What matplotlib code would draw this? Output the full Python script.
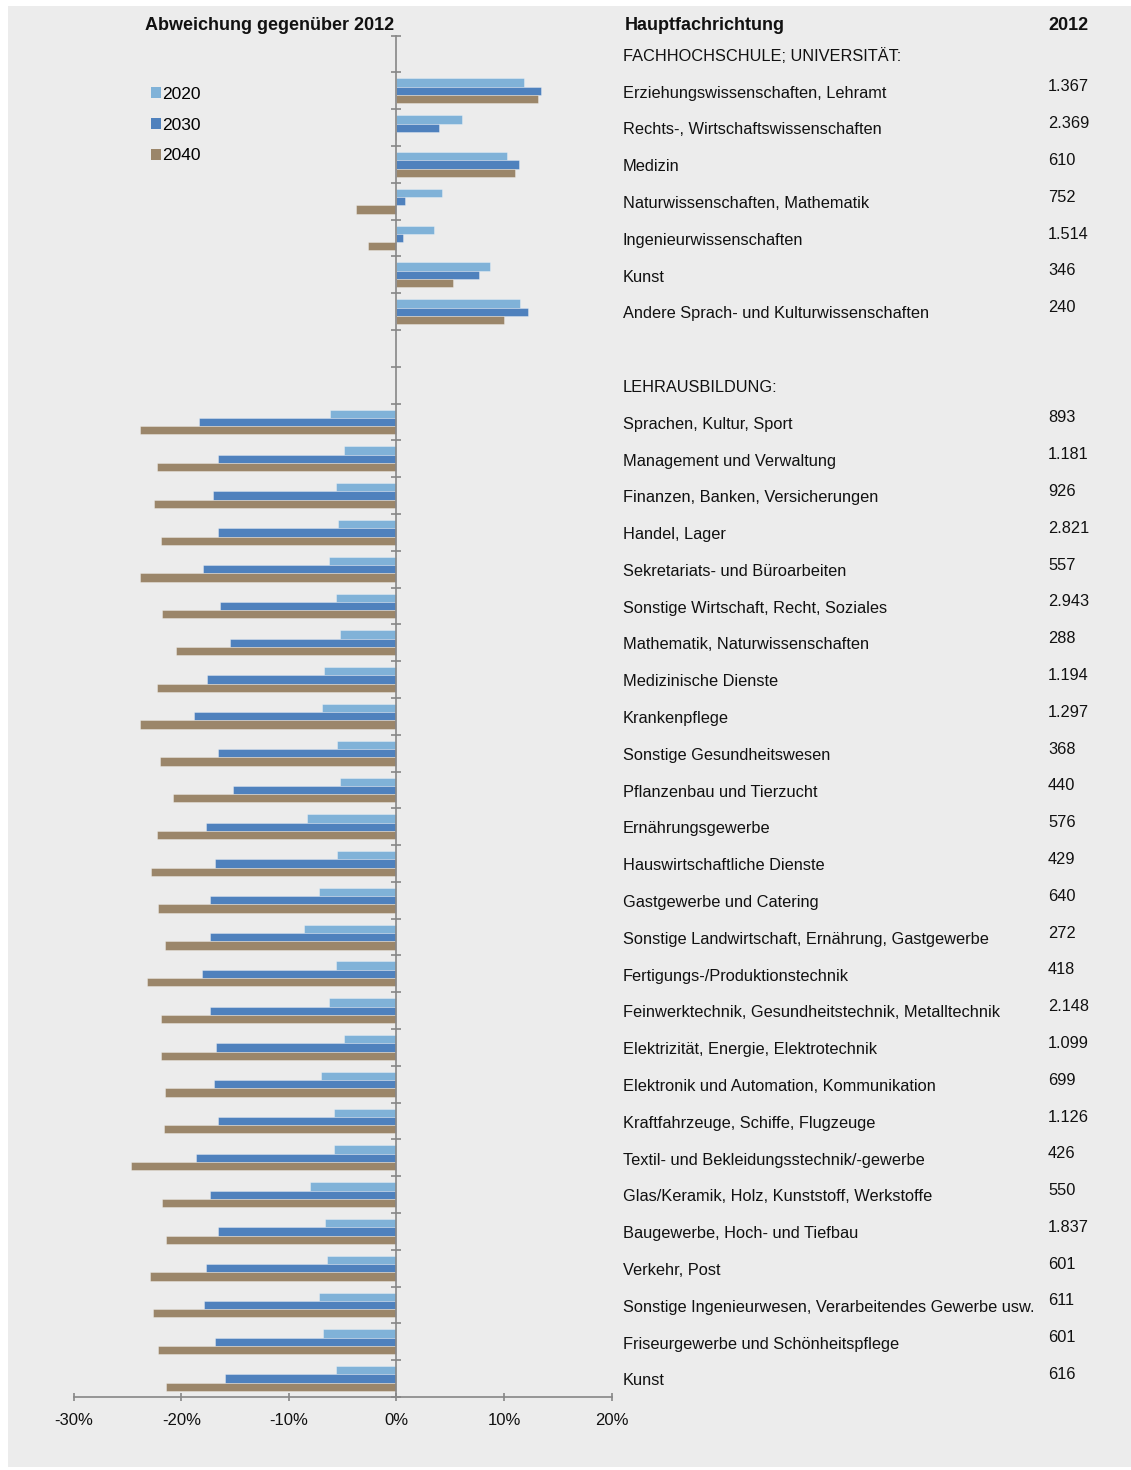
import numpy as np
import matplotlib
matplotlib.use("Agg")
import matplotlib.pyplot as plt
from matplotlib.patches import Rectangle, Patch
from matplotlib.transforms import blended_transform_factory

plt.rcParams['font.family'] = ['Liberation Sans', 'DejaVu Sans']

# ---------------- data ----------------
years = ['2020', '2030', '2040']

uni_header = 'FACHHOCHSCHULE; UNIVERSITÄT:'
uni_labels = [
    'Erziehungswissenschaften, Lehramt',
    'Rechts-, Wirtschaftswissenschaften',
    'Medizin',
    'Naturwissenschaften, Mathematik',
    'Ingenieurwissenschaften',
    'Kunst',
    'Andere Sprach- und Kulturwissenschaften',
]
uni_2012 = [1367, 2369, 610, 752, 1514, 346, 240]
uni_2020 = [11.9, 6.1, 10.3, 4.2, 3.5, 8.7, 11.5]
uni_2030 = [13.4, 4.0, 11.4, 0.8, 0.6, 7.7, 12.2]
uni_2040 = [13.2, -0.1, 11.0, -3.8, -2.6, 5.3, 10.0]

lehr_header = 'LEHRAUSBILDUNG:'
lehr_labels = [
    'Sprachen, Kultur, Sport',
    'Management und Verwaltung',
    'Finanzen, Banken, Versicherungen',
    'Handel, Lager',
    'Sekretariats- und Büroarbeiten',
    'Sonstige Wirtschaft, Recht, Soziales',
    'Mathematik, Naturwissenschaften',
    'Medizinische Dienste',
    'Krankenpflege',
    'Sonstige Gesundheitswesen',
    'Pflanzenbau und Tierzucht',
    'Ernährungsgewerbe',
    'Hauswirtschaftliche Dienste',
    'Gastgewerbe und Catering',
    'Sonstige Landwirtschaft, Ernährung, Gastgewerbe',
    'Fertigungs-/Produktionstechnik',
    'Feinwerktechnik, Gesundheitstechnik, Metalltechnik',
    'Elektrizität, Energie, Elektrotechnik',
    'Elektronik und Automation, Kommunikation',
    'Kraftfahrzeuge, Schiffe, Flugzeuge',
    'Textil- und Bekleidungsstechnik/-gewerbe',
    'Glas/Keramik, Holz, Kunststoff, Werkstoffe',
    'Baugewerbe, Hoch- und Tiefbau',
    'Verkehr, Post',
    'Sonstige Ingenieurwesen, Verarbeitendes Gewerbe usw.',
    'Friseurgewerbe und Schönheitspflege',
    'Kunst',
]
lehr_2012 = [893, 1181, 926, 2821, 557, 2943, 288, 1194, 1297, 368, 440, 576,
             429, 640, 272, 418, 2148, 1099, 699, 1126, 426, 550, 1837, 601,
             611, 601, 616]
lehr_2020 = [-6.2, -4.9, -5.6, -5.4, -6.3, -5.6, -5.2, -6.7, -6.9, -5.5, -5.2,
             -8.3, -5.5, -7.2, -8.6, -5.6, -6.3, -4.9, -7.0, -5.8, -5.8, -8.0,
             -6.6, -6.5, -7.2, -6.8, -5.6]
lehr_2030 = [-18.4, -16.6, -17.1, -16.6, -18.0, -16.4, -15.5, -17.6, -18.8,
             -16.6, -15.2, -17.7, -16.9, -17.3, -17.3, -18.1, -17.3, -16.8,
             -17.0, -16.6, -18.6, -17.3, -16.6, -17.7, -17.9, -16.9, -15.9]
lehr_2040 = [-23.8, -22.3, -22.5, -21.9, -23.8, -21.8, -20.5, -22.3, -23.8,
             -22.0, -20.8, -22.3, -22.8, -22.2, -21.5, -23.2, -21.9, -21.9,
             -21.5, -21.6, -24.7, -21.8, -21.4, -22.9, -22.6, -22.2, -21.4]

x_ticks = [-30, -20, -10, 0, 10, 20]

# ---------------- style ----------------
colors = ['#80b2d8', '#4f81bd', '#9b866a']
axis_color = '#878787'
text_color = '#111111'
bg_color = '#ececec'

W, H = 1131, 1470
fig = plt.figure(figsize=(W / 100, H / 100), dpi=100)
fig.patch.set_facecolor('white')
fig.add_artist(Rectangle((8 / W, 1 - 1467 / H), 1 - 8 / W, (1467 - 6) / H,
                         transform=fig.transFigure, facecolor=bg_color,
                         edgecolor='none', zorder=-10))

ax = fig.add_axes([73.8 / W, 1 - 1397 / H, (611.5 - 73.8) / W, (1397 - 35.7) / H])
ax.set_facecolor('none')

# row layout: header, university rows, blank, header, apprenticeship rows
uni_pos = np.arange(1, 1 + len(uni_labels))
lehr_header_pos = uni_pos[-1] + 2
lehr_pos = np.arange(lehr_header_pos + 1, lehr_header_pos + 1 + len(lehr_labels))
n_rows = lehr_pos[-1] + 1

bar_h = 0.225
offsets = [-bar_h, 0.0, bar_h]
series = [(uni_2020, lehr_2020), (uni_2030, lehr_2030), (uni_2040, lehr_2040)]
for (u, l), off, c in zip(series, offsets, colors):
    ax.barh(uni_pos + off, u, height=bar_h, color=c,
            edgecolor=(1, 1, 1, 0.45), linewidth=0.5, zorder=2)
    ax.barh(lehr_pos + off, l, height=bar_h, color=c,
            edgecolor=(1, 1, 1, 0.45), linewidth=0.5, zorder=2)

ax.set_xlim(x_ticks[0], x_ticks[-1])
ax.set_ylim(n_rows - 0.5, -0.5)

ax.set_xticks(x_ticks)
ax.set_xticklabels([f'{t}%' for t in x_ticks])
ax.set_yticks(np.arange(-0.5, n_rows, 1.0))
ax.set_yticklabels([])

for s in ('top', 'right'):
    ax.spines[s].set_visible(False)
ax.spines['left'].set_position(('data', 0))
for s in ('left', 'bottom'):
    ax.spines[s].set_color(axis_color)
    ax.spines[s].set_linewidth(1.2)
    ax.spines[s].set_zorder(3)

ax.tick_params(axis='y', direction='inout', length=6.5, width=1.2, color=axis_color)
ax.tick_params(axis='x', direction='inout', length=5.5, width=1.2, color=axis_color,
               labelsize=12, labelcolor=text_color, pad=9)

# ---------------- text columns ----------------
trans = blended_transform_factory(fig.transFigure, ax.transData)
label_x = 623 / W
num_x = 1048 / W
fs = 11.75
text_shift = 0.06   # nudges text slightly below the row centre

ax.text(label_x, 0 + text_shift, uni_header, transform=trans, ha='left',
        va='center', fontsize=fs, color=text_color, clip_on=False)
ax.text(label_x, lehr_header_pos + text_shift, lehr_header, transform=trans,
        ha='left', va='center', fontsize=fs, color=text_color, clip_on=False)

def fmt_de(v):
    return f'{v:,}'.replace(',', '.')

for pos, lab, val in list(zip(uni_pos, uni_labels, uni_2012)) + \
        list(zip(lehr_pos, lehr_labels, lehr_2012)):
    ax.text(label_x, pos + text_shift, lab, transform=trans, ha='left',
            va='center', fontsize=fs, color=text_color, clip_on=False)
    ax.text(num_x, pos - 0.11, fmt_de(val), transform=trans, ha='left',
            va='center', fontsize=fs, color=text_color, clip_on=False)

title_y = 1 - 25.5 / H
fig.text(270 / W, title_y, 'Abweichung gegenüber 2012', ha='center',
         va='center', fontsize=13, fontweight='bold', color=text_color)
fig.text(625 / W, title_y, 'Hauptfachrichtung', ha='left', va='center',
         fontsize=13, fontweight='bold', color=text_color)
fig.text(1048 / W, title_y, '2012', ha='left', va='center',
         fontsize=13, fontweight='bold', color=text_color)

# ---------------- legend ----------------
handles = [Patch(facecolor=c, edgecolor='none') for c in colors]
ax.legend(handles, years, loc='upper left', bbox_to_anchor=(151 / W, 1 - 87 / H),
          bbox_transform=fig.transFigure, frameon=False, fontsize=12.5,
          handlelength=0.6, handleheight=0.6, handletextpad=0.05,
          labelspacing=0.9, borderpad=0, borderaxespad=0)

fig.savefig('out.png', dpi=100, facecolor=fig.get_facecolor())
